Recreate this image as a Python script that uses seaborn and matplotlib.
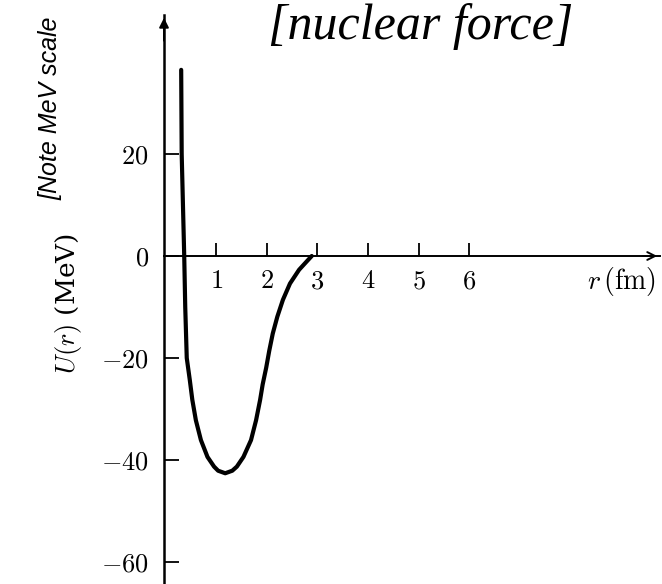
import numpy as np
import pandas as pd
import matplotlib
matplotlib.use("Agg")
import matplotlib.pyplot as plt
import seaborn as sns

# ---- data ----
r_fm = [0.31, 0.32, 0.37, 0.39, 0.42, 0.48, 0.53, 0.60, 0.70, 0.83, 0.96, 1.04, 1.18,
        1.32, 1.41, 1.54, 1.69, 1.79, 1.87, 1.92, 1.99, 2.05, 2.12, 2.21, 2.32,
        2.46, 2.64, 2.76, 2.89]
U_mev = [36.5, 20.0, 0.0, -10.0, -20.0, -24.3, -28.2, -32.2, -36.1, -39.4, -41.3, -42.1, -42.6,
         -42.1, -41.3, -39.4, -36.1, -32.2, -28.2, -25.2, -21.9, -18.6, -15.2, -11.9, -8.6,
         -5.4, -2.7, -1.4, 0.0]
x_ticks = [1, 2, 3, 4, 5, 6]
y_ticks = [20, 0, -20, -40, -60]
x_label = r"$r\,(\mathrm{fm})$"
y_label = r"$U(r)$ (MeV)"
title_note = "[nuclear force]"
side_note = "[Note MeV scale"

df = pd.DataFrame({"r": r_fm, "U": U_mev})

sns.set_theme(style="white")
plt.rcParams["font.family"] = ["DejaVu Serif", "DejaVu Sans"]
plt.rcParams["mathtext.fontset"] = "cm"

W, H = 662, 584
fig = plt.figure(figsize=(W / 100, H / 100), dpi=100)
left_px, right_px, top_px, bot_px = 164, 660, 15, 584
ax = fig.add_axes([left_px / W, 1 - bot_px / H, (right_px - left_px) / W, (bot_px - top_px) / H])
ax.set_facecolor("none")

px_per_fm = 50.6
r0_px = 165.5
px_per_mev = 5.1
y0_px = 256
ax.set_xlim((left_px - r0_px) / px_per_fm, (right_px - r0_px) / px_per_fm)
ax.set_ylim((y0_px - bot_px) / px_per_mev, (y0_px - top_px) / px_per_mev)

sns.lineplot(data=df, x="r", y="U", sort=False, estimator=None, color="black",
             lw=3.0, ax=ax)

for s in ["top", "right"]:
    ax.spines[s].set_visible(False)
ax.spines["bottom"].set_position(("data", 0))
ax.spines["left"].set_position(("axes", 0))
ax.spines["left"].set_linewidth(1.8)
ax.spines["bottom"].set_linewidth(1.4)
for s in ["left", "bottom"]:
    ax.spines[s].set_color("black")

ax.set_xticks(x_ticks)
ax.set_xticklabels([rf"${t}$" for t in x_ticks])
ax.set_yticks(y_ticks)
ax.set_yticklabels([rf"${t}$" for t in y_ticks])
ax.tick_params(axis="x", direction="in", length=9.5, width=1.3, pad=9,
               labelsize=19, colors="black", bottom=True)
ax.tick_params(axis="y", direction="in", length=11, width=1.3, pad=11,
               labelsize=19, colors="black", left=True)
ax.set_xlabel("")
ax.set_ylabel("")

# axis arrows
ax.annotate("", xy=(1.0, 0), xytext=(0.96, 0), xycoords=ax.get_yaxis_transform(),
            arrowprops=dict(arrowstyle="->", lw=1.4, color="black",
                            mutation_scale=14))
ax.annotate("", xy=(0, 1.0), xytext=(0, 0.95), xycoords="axes fraction",
            arrowprops=dict(arrowstyle="-|>", lw=1.4, color="black",
                            mutation_scale=14))

# axis labels
fig.text(622 / W, 1 - 282 / H, x_label, ha="center", va="center", fontsize=20,
         color="black")
fig.text(68 / W, 1 - 304 / H, y_label, rotation=90, ha="center", va="center",
         fontsize=19, color="black")

# handwritten notes
fig.text(421 / W, 1 - 27 / H, title_note, ha="center", va="center", fontsize=36,
         style="italic", family=["Liberation Serif", "DejaVu Serif"], color="black")
fig.text(50 / W, 1 - 200 / H, side_note, ha="center", va="bottom", rotation=90,
         fontsize=18, style="italic",
         family=["Liberation Sans Narrow", "Liberation Sans", "DejaVu Sans"],
         color="black")

fig.savefig("out.png", dpi=100)
